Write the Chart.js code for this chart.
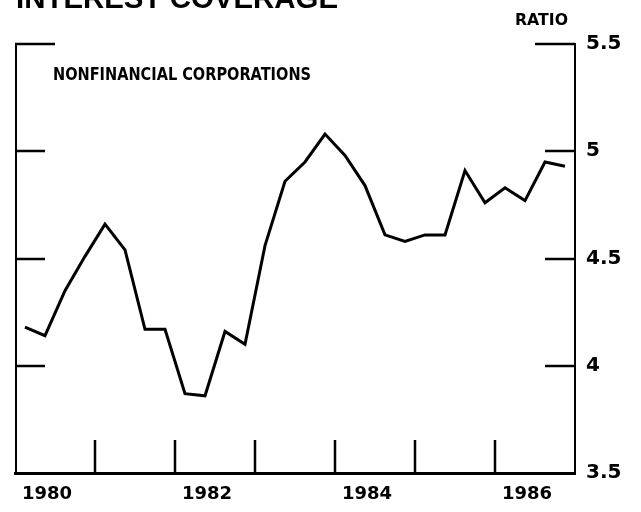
<!DOCTYPE html>
<html>
<head>
<meta charset="utf-8">
<title>Interest Coverage</title>
<script src="https://cdn.jsdelivr.net/npm/chart.js@4"></script>
<style>
  html, body { margin: 0; padding: 0; background: #fff; }
  canvas { display: block; }
</style>
</head>
<body>
<canvas id="coverageChart" width="641" height="512"></canvas>
<script>
// Quarterly interest coverage ratio, nonfinancial corporations
const quarters = [
  '1980Q1', '1980Q2', '1980Q3', '1980Q4',
  '1981Q1', '1981Q2', '1981Q3', '1981Q4',
  '1982Q1', '1982Q2', '1982Q3', '1982Q4',
  '1983Q1', '1983Q2', '1983Q3', '1983Q4',
  '1984Q1', '1984Q2', '1984Q3', '1984Q4',
  '1985Q1', '1985Q2', '1985Q3', '1985Q4',
  '1986Q1', '1986Q2', '1986Q3', '1986Q4'
];
const coverage = [
  4.18, 4.14, 4.35, 4.51,
  4.66, 4.54, 4.17, 4.17,
  3.87, 3.86, 4.16, 4.10,
  4.56, 4.86, 4.95, 5.08,
  4.98, 4.84, 4.61, 4.58,
  4.61, 4.61, 4.91, 4.76,
  4.83, 4.77, 4.95, 4.93
];
const yearLabels = [1980, 1982, 1984, 1986];
const yearMarks = [1981, 1982, 1983, 1984, 1985, 1986];
const ratioTicks = [3.5, 4, 4.5, 5, 5.5];
const ratioMarks = [4, 4.5, 5, 5.5];

// quarter label -> position on a continuous year axis (middle of the quarter)
function quarterToX(q) {
  return Number(q.slice(0, 4)) + (Number(q.slice(5)) - 0.5) / 4;
}

const points = quarters.map((q, i) => ({ x: quarterToX(q), y: coverage[i] }));

// left frame line, inward tick marks and the text around the plot
const framePlugin = {
  id: 'frame',
  afterDraw(chart) {
    const { ctx, chartArea: area, scales: { x, y } } = chart;
    ctx.save();
    ctx.strokeStyle = '#000';
    ctx.lineCap = 'butt';

    ctx.lineWidth = 2;
    ctx.beginPath();
    ctx.moveTo(area.left + 1, area.top);
    ctx.lineTo(area.left + 1, area.bottom);
    ctx.stroke();

    ctx.lineWidth = 2.5;
    ratioMarks.forEach(v => {
      const py = Math.round(y.getPixelForValue(v));
      const len = v === 5.5 ? 40 : 30;   // the top marks run a bit longer
      ctx.beginPath();
      ctx.moveTo(area.left, py);
      ctx.lineTo(area.left + len, py);
      ctx.moveTo(area.right, py);
      ctx.lineTo(area.right - len, py);
      ctx.stroke();
    });

    yearMarks.forEach(yr => {
      const px = Math.round(x.getPixelForValue(yr));
      ctx.beginPath();
      ctx.moveTo(px, area.bottom);
      ctx.lineTo(px, area.bottom - 33);
      ctx.stroke();
    });

    ctx.fillStyle = '#000';
    ctx.textBaseline = 'alphabetic';
    ctx.textAlign = 'left';
    ctx.font = 'bold 30px "Liberation Sans"';
    ctx.fillText('INTEREST COVERAGE', 16, 8, 322);

    ctx.font = 'bold 18px "DejaVu Sans"';
    ctx.fillText('NONFINANCIAL CORPORATIONS', 53, 80, 258);

    ctx.font = 'bold 16px "DejaVu Sans"';
    ctx.fillText('RATIO', 515, 25, 53);
    ctx.restore();
  }
};

new Chart(document.getElementById('coverageChart'), {
  type: 'line',
  data: {
    datasets: [{
      data: points,
      borderColor: '#000',
      borderWidth: 3,
      pointRadius: 0,
      tension: 0,
      fill: false
    }]
  },
  options: {
    responsive: false,
    animation: false,
    layout: { padding: { left: 15, top: 44, right: 0, bottom: 0 } },
    plugins: {
      legend: { display: false },
      tooltip: { enabled: false }
    },
    scales: {
      x: {
        type: 'linear',
        min: 1980,
        max: 1987,
        afterBuildTicks: axis => {
          axis.ticks = yearLabels.map(yr => ({ value: yr + 0.4 }));
        },
        afterFit: axis => { axis.height = 39; },
        grid: { display: false, drawTicks: false },
        border: { display: true, color: '#000', width: 3 },
        ticks: {
          autoSkip: false,
          maxRotation: 0,
          padding: 11,
          color: '#000',
          font: { family: 'DejaVu Sans', weight: 'bold', size: 18 },
          callback: v => String(Math.floor(v))
        }
      },
      y: {
        position: 'right',
        min: 3.5,
        max: 5.5,
        afterBuildTicks: axis => {
          axis.ticks = ratioTicks.map(v => ({ value: v }));
        },
        afterFit: axis => { axis.width = 66; },
        grid: { display: false, drawTicks: false },
        border: { display: true, color: '#000', width: 2 },
        ticks: {
          padding: 11,
          color: '#000',
          font: { family: 'DejaVu Sans', weight: 'bold', size: 20 },
          callback: v => String(v)
        }
      }
    }
  },
  plugins: [framePlugin]
});
</script>
</body>
</html>
